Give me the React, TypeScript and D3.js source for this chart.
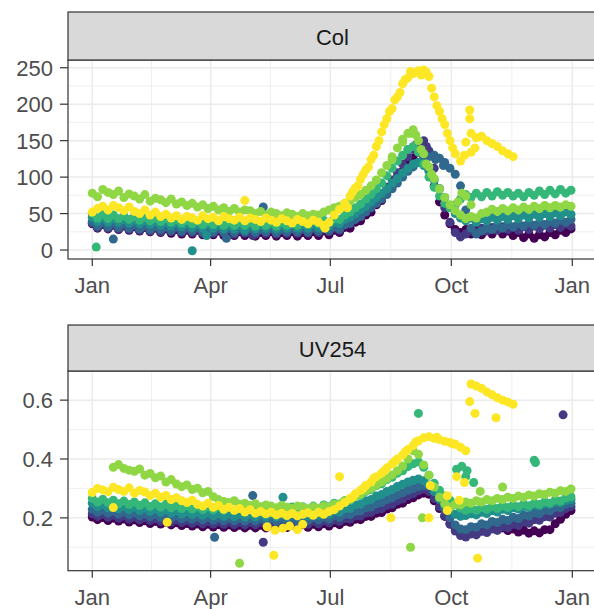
import React from "react";
import * as d3 from "d3";

// ---------------- data ----------------
const seriesIds = ["S1", "S2", "S3", "S4", "S5", "S6", "S7"];
const seriesColors = ["#440154", "#443A83", "#31688E", "#21908C", "#35B779", "#8FD744", "#FDE725"];
const facetTitles = ["Col", "UV254"];
const monthLabels = ["Jan", "Apr", "Jul", "Oct", "Jan"];
const monthTickDates = ["2019-01-01", "2019-04-01", "2019-07-01", "2019-10-01", "2020-01-01"];
const colTicks = [0, 50, 100, 150, 200, 250];
const colMinor = [25, 75, 125, 175, 225];
const uvTicks = [0.2, 0.4, 0.6];
const uvMinor = [0.1, 0.3, 0.5];

// sample days of year (every 4 days: 1, 5, ..., 365)
const sampleDays = d3.range(1, 366, 4);

const colPurple = [36, 30, 35, 29, 34, 28, 33, 27, 32, 26, 31, 25, 30, 24, 29, 23, 28, 22, 27, 22, 27, 21, 26, 21, 26, 20, 25, 20, 25, 20, 25, 19, 24, 20, 25, 19, 24, 20, 25, 19, 24, 20, 25, 20, 26, 21, 27, 24, 31, 30, 38, 40, 48, 52, 62, 68, 80, 88, 100, 108, 120, 126, 134, 126, 110, 88, 66, 48, 36, 28, 24, 28, 22, 27, 21, 27, 22, 28, 22, 26, 20, 24, 17, 22, 16, 21, 18, 24, 21, 27, 24, 29];
const colIndigo = [37, 31, 36, 30, 35, 29, 34, 28, 33, 27, 32, 26, 31, 25, 30, 25, 30, 24, 29, 24, 29, 23, 28, 23, 28, 23, 28, 22, 27, 23, 28, 22, 27, 23, 28, 22, 27, 23, 28, 23, 28, 23, 29, 24, 29, 25, 30, 27, 34, 36, 42, 46, 54, 60, 68, 76, 86, 96, 106, 118, 128, 138, 146, 150, 136, 112, 84, 58, 38, 24, 18, 22, 26, 24, 30, 26, 31, 27, 32, 28, 31, 27, 32, 28, 33, 29, 34, 30, 35, 31, 36, 33];
const colBlue = [39, 33, 38, 32, 37, 31, 36, 30, 35, 29, 34, 28, 33, 28, 32, 27, 32, 26, 31, 26, 31, 25, 30, 25, 30, 25, 30, 24, 30, 25, 30, 24, 29, 25, 30, 24, 29, 25, 30, 25, 30, 25, 31, 26, 31, 27, 32, 29, 35, 37, 42, 46, 52, 58, 64, 70, 76, 84, 92, 100, 108, 114, 120, 124, 128, 130, 126, 120, 112, 104, 88, 55, 30, 22, 26, 30, 28, 33, 30, 35, 32, 36, 33, 37, 34, 38, 35, 39, 37, 41, 38, 42];
const colTeal = [45, 39, 44, 38, 43, 38, 42, 37, 41, 36, 40, 35, 39, 34, 38, 33, 37, 32, 36, 31, 35, 30, 35, 30, 34, 29, 34, 29, 34, 30, 34, 29, 34, 30, 35, 29, 34, 30, 35, 30, 35, 30, 36, 31, 37, 33, 38, 36, 42, 45, 50, 55, 60, 66, 72, 78, 84, 92, 98, 106, 112, 118, 120, 116, 108, 96, 84, 72, 60, 50, 44, 40, 44, 38, 43, 40, 45, 41, 46, 42, 47, 43, 48, 44, 49, 45, 50, 46, 51, 47, 52, 49];
const colGreen = [50, 44, 49, 43, 48, 43, 47, 42, 46, 41, 45, 40, 44, 39, 43, 38, 42, 37, 41, 36, 40, 35, 39, 35, 39, 34, 38, 34, 38, 34, 38, 33, 38, 34, 38, 33, 38, 34, 39, 34, 39, 35, 40, 36, 41, 38, 43, 42, 48, 52, 58, 63, 70, 76, 84, 92, 102, 112, 122, 130, 138, 142, 134, 118, 100, 86, 74, 64, 58, 62, 70, 76, 72, 78, 73, 79, 74, 80, 75, 79, 74, 78, 73, 79, 75, 81, 76, 82, 77, 83, 78, 82];
const colLightGreen = [78, 73, 83, 79, 76, 81, 72, 77, 74, 70, 76, 67, 71, 69, 65, 70, 63, 66, 61, 64, 59, 62, 57, 60, 55, 58, 53, 57, 52, 55, 54, 50, 53, 48, 52, 50, 47, 51, 49, 46, 50, 47, 49, 48, 52, 55, 58, 60, 64, 67, 72, 76, 82, 88, 96, 106, 116, 128, 140, 152, 160, 165, 150, 132, 114, 98, 84, 72, 62, 54, 48, 43, 46, 44, 50, 52, 56, 53, 57, 54, 58, 55, 59, 56, 60, 57, 61, 58, 61, 59, 62, 60];
const colYellow = [52, 57, 60, 55, 61, 58, 54, 59, 53, 50, 55, 48, 52, 46, 49, 44, 47, 42, 46, 44, 41, 47, 43, 45, 40, 46, 43, 41, 45, 40, 44, 42, 39, 44, 41, 38, 43, 40, 37, 42, 39, 36, 41, 38, 34, 38, 48, 56, 64, 74, 85, 97, 110, 124, 142, 162, 180, 194, 210, 228, 236, 242, 246, 247, 238, 210, 190, 172, 150, 132, 122, 148, 160, 154, 156, 150, 146, 142, 136, 132, 128, null, null, null, null, null, null, null, null, null, null, null];

const uvPurple = [0.203, 0.194, 0.201, 0.191, 0.199, 0.189, 0.196, 0.186, 0.193, 0.184, 0.19, 0.181, 0.188, 0.179, 0.185, 0.176, 0.183, 0.174, 0.181, 0.172, 0.179, 0.17, 0.178, 0.169, 0.177, 0.168, 0.176, 0.167, 0.175, 0.166, 0.175, 0.166, 0.175, 0.166, 0.175, 0.166, 0.175, 0.167, 0.176, 0.167, 0.177, 0.168, 0.178, 0.17, 0.18, 0.172, 0.183, 0.177, 0.188, 0.185, 0.195, 0.194, 0.205, 0.205, 0.216, 0.218, 0.23, 0.234, 0.246, 0.25, 0.262, 0.268, 0.278, 0.284, 0.28, 0.258, 0.232, 0.205, 0.182, 0.165, 0.152, 0.148, 0.158, 0.152, 0.163, 0.157, 0.167, 0.159, 0.166, 0.157, 0.162, 0.152, 0.158, 0.148, 0.156, 0.149, 0.16, 0.16, 0.18, 0.195, 0.212, 0.225];
const uvIndigo = [0.214, 0.205, 0.212, 0.202, 0.209, 0.199, 0.206, 0.196, 0.203, 0.193, 0.2, 0.191, 0.198, 0.188, 0.195, 0.186, 0.193, 0.184, 0.191, 0.182, 0.189, 0.18, 0.188, 0.179, 0.187, 0.178, 0.186, 0.177, 0.185, 0.176, 0.185, 0.176, 0.185, 0.176, 0.185, 0.176, 0.185, 0.177, 0.186, 0.177, 0.187, 0.178, 0.188, 0.18, 0.19, 0.183, 0.193, 0.188, 0.198, 0.196, 0.206, 0.206, 0.216, 0.218, 0.228, 0.231, 0.242, 0.246, 0.258, 0.264, 0.275, 0.282, 0.292, 0.298, 0.29, 0.266, 0.238, 0.208, 0.178, 0.155, 0.14, 0.135, 0.145, 0.142, 0.154, 0.15, 0.162, 0.158, 0.17, 0.166, 0.178, 0.174, 0.186, 0.182, 0.194, 0.192, 0.204, 0.203, 0.216, 0.218, 0.232, 0.238];
const uvBlue = [0.229, 0.219, 0.226, 0.216, 0.223, 0.213, 0.22, 0.21, 0.217, 0.207, 0.214, 0.204, 0.211, 0.202, 0.209, 0.199, 0.207, 0.197, 0.205, 0.195, 0.203, 0.193, 0.201, 0.192, 0.2, 0.191, 0.199, 0.19, 0.198, 0.189, 0.198, 0.189, 0.198, 0.189, 0.198, 0.189, 0.198, 0.19, 0.199, 0.19, 0.2, 0.191, 0.201, 0.193, 0.203, 0.196, 0.207, 0.202, 0.212, 0.211, 0.222, 0.223, 0.234, 0.237, 0.248, 0.252, 0.262, 0.268, 0.278, 0.285, 0.294, 0.3, 0.306, 0.31, 0.308, 0.29, 0.262, 0.23, 0.2, 0.176, 0.162, 0.16, 0.17, 0.168, 0.18, 0.176, 0.188, 0.184, 0.195, 0.191, 0.202, 0.198, 0.21, 0.206, 0.217, 0.214, 0.226, 0.224, 0.236, 0.235, 0.246, 0.25];
const uvTeal = [0.25, 0.238, 0.246, 0.234, 0.242, 0.231, 0.239, 0.228, 0.236, 0.225, 0.233, 0.222, 0.23, 0.219, 0.227, 0.216, 0.224, 0.213, 0.221, 0.211, 0.219, 0.209, 0.217, 0.207, 0.215, 0.205, 0.214, 0.204, 0.213, 0.203, 0.213, 0.203, 0.213, 0.203, 0.213, 0.203, 0.213, 0.204, 0.214, 0.205, 0.215, 0.206, 0.217, 0.209, 0.22, 0.213, 0.225, 0.22, 0.232, 0.232, 0.244, 0.246, 0.258, 0.262, 0.274, 0.279, 0.29, 0.296, 0.307, 0.314, 0.322, 0.328, 0.332, 0.326, 0.312, 0.29, 0.265, 0.242, 0.224, 0.212, 0.205, 0.208, 0.214, 0.21, 0.219, 0.215, 0.224, 0.22, 0.229, 0.225, 0.234, 0.23, 0.239, 0.235, 0.244, 0.24, 0.249, 0.246, 0.254, 0.251, 0.259, 0.262];
const uvGreen = [0.266, 0.254, 0.263, 0.251, 0.26, 0.248, 0.257, 0.245, 0.254, 0.242, 0.251, 0.239, 0.248, 0.237, 0.246, 0.234, 0.243, 0.232, 0.241, 0.23, 0.239, 0.228, 0.238, 0.227, 0.237, 0.226, 0.236, 0.225, 0.235, 0.224, 0.235, 0.224, 0.235, 0.224, 0.235, 0.225, 0.236, 0.226, 0.237, 0.227, 0.238, 0.229, 0.24, 0.232, 0.244, 0.238, 0.25, 0.247, 0.258, 0.26, 0.272, 0.277, 0.29, 0.296, 0.31, 0.316, 0.33, 0.338, 0.352, 0.36, 0.374, 0.384, 0.39, 0.372, 0.345, 0.318, 0.294, 0.274, 0.26, 0.246, 0.234, 0.226, 0.232, 0.226, 0.235, 0.229, 0.238, 0.232, 0.241, 0.235, 0.244, 0.238, 0.247, 0.241, 0.25, 0.245, 0.255, 0.25, 0.261, 0.257, 0.268, 0.272];
const uvLightGreen = [null, null, null, null, 0.372, 0.381, 0.368, 0.362, 0.358, 0.366, 0.345, 0.351, 0.336, 0.342, 0.322, 0.33, 0.315, 0.306, 0.312, 0.296, 0.301, 0.285, 0.29, 0.272, 0.262, 0.256, 0.252, 0.258, 0.246, 0.25, 0.242, 0.248, 0.238, 0.244, 0.24, 0.234, 0.242, 0.236, 0.232, 0.24, 0.236, 0.231, 0.238, 0.233, 0.24, 0.236, 0.246, 0.246, 0.258, 0.262, 0.274, 0.28, 0.292, 0.3, 0.312, 0.322, 0.334, 0.346, 0.36, 0.376, 0.4, 0.428, 0.416, 0.38, 0.345, 0.305, 0.27, 0.248, 0.236, 0.246, 0.244, 0.254, 0.25, 0.258, 0.254, 0.262, 0.258, 0.266, 0.262, 0.27, 0.266, 0.274, 0.27, 0.278, 0.274, 0.282, 0.279, 0.287, 0.284, 0.292, 0.29, 0.298];
const uvYellow = [0.286, 0.3, 0.295, 0.289, 0.304, 0.296, 0.29, 0.302, 0.284, 0.293, 0.288, 0.276, 0.284, 0.27, 0.276, 0.262, 0.268, 0.258, 0.252, 0.26, 0.246, 0.24, 0.25, 0.236, 0.242, 0.229, 0.236, 0.226, 0.232, 0.22, 0.228, 0.216, 0.222, 0.214, 0.219, 0.21, 0.216, 0.208, 0.215, 0.207, 0.212, 0.217, 0.209, 0.219, 0.212, 0.222, 0.228, 0.24, 0.252, 0.266, 0.282, 0.294, 0.31, 0.322, 0.34, 0.352, 0.37, 0.384, 0.4, 0.414, 0.432, 0.446, 0.462, 0.472, 0.476, 0.47, 0.466, 0.46, 0.456, 0.45, 0.44, 0.428, 0.655, 0.648, 0.64, 0.628, 0.618, 0.608, 0.6, 0.594, 0.586, null, null, null, null, null, null, null, null, null, null, null];

// scattered extra points: [series index, day of year, value]
const colExtras = [
  [4, 4, 4], [3, 77, -1], [2, 17, 15], [2, 131, 59], [2, 103, 16], [3, 88, 20], [1, 123, 20], [3, 117, 27],
  [6, 117, 68], [6, 178, 30], [5, 279, 66], [5, 282, 78], [5, 285, 74], [5, 289, 62],
  [6, 284, 130], [6, 289, 134], [6, 292, 140], [6, 288, 180], [6, 288, 192],
  [6, 195, 58], [6, 199, 80], [6, 203, 88], [6, 207, 104], [6, 211, 114], [6, 215, 130], [6, 219, 150], [6, 223, 172],
  [6, 227, 190], [6, 231, 206], [6, 235, 216], [6, 239, 234], [6, 243, 245], [6, 251, 240], [6, 255, 244],
  [6, 259, 222], [6, 263, 198], [6, 267, 180], [6, 271, 160], [6, 275, 140],
  [5, 229, 124], [5, 237, 148], [5, 243, 160], [5, 247, 158], [5, 251, 138], [5, 255, 118], [5, 259, 104],
  [1, 247, 144], [1, 255, 142], [2, 262, 124], [2, 268, 116], [4, 241, 138],
];
const uvExtras = [
  [2, 94, 0.134], [2, 123, 0.276], [1, 131, 0.117], [1, 359, 0.55], [5, 113, 0.046], [5, 243, 0.1],
  [5, 296, 0.29], [5, 313, 0.305], [5, 252, 0.2], [3, 146, 0.27],
  [4, 249, 0.555], [4, 337, 0.396], [4, 338, 0.388], [4, 278, 0.365], [4, 282, 0.375], [4, 286, 0.36], [4, 285, 0.34], [4, 291, 0.32],
  [6, 134, 0.17], [6, 140, 0.158], [6, 146, 0.165], [6, 151, 0.172], [6, 157, 0.16], [6, 161, 0.178], [6, 139, 0.073],
  [6, 58, 0.185], [6, 17, 0.235], [6, 189, 0.34],
  [6, 199, 0.27], [6, 207, 0.3], [6, 215, 0.335], [6, 223, 0.36], [6, 231, 0.392], [6, 239, 0.425], [6, 247, 0.458],
  [6, 263, 0.474], [6, 275, 0.452],
  [6, 258, 0.31], [6, 271, 0.275], [6, 280, 0.26], [6, 271, 0.225], [6, 257, 0.2], [6, 228, 0.2],
  [6, 278, 0.34], [6, 284, 0.32], [6, 288, 0.595], [6, 292, 0.555], [6, 308, 0.54], [6, 294, 0.063],
];

const colSeries = [colPurple, colIndigo, colBlue, colTeal, colGreen, colLightGreen, colYellow];
const uvSeries = [uvPurple, uvIndigo, uvBlue, uvTeal, uvGreen, uvLightGreen, uvYellow];

// ---------------- layout ----------------
const W = 594;
const H = 609;
const PL = 68;
const PR = 597;
const FONT = "'Liberation Sans', Arial, Helvetica, sans-serif";
const FS = 22;
const panels = [
  { title: facetTitles[0], stripTop: 12, top: 60, bottom: 259, domain: [-12.3, 260.6], ticks: colTicks, minor: colMinor, series: colSeries, extras: colExtras, fmt: (v: number) => String(v) },
  { title: facetTitles[1], stripTop: 325, top: 371, bottom: 570.7, domain: [0.0205, 0.699], ticks: uvTicks, minor: uvMinor, series: uvSeries, extras: uvExtras, fmt: (v: number) => v.toFixed(1) },
];

const DAY = 86400000;
const dayDate = (doy: number) => new Date(2019, 0, doy);
const majorDates = monthTickDates.map((s) => {
  const [y, m, d] = s.split("-").map(Number);
  return new Date(y, m - 1, d);
});
const x = d3
  .scaleTime()
  .domain([new Date(majorDates[0].getTime() - 18.46 * DAY), new Date(majorDates[4].getTime() + 18.78 * DAY)])
  .range([PL, PR]);
const minorDates = majorDates.slice(1).map((d, i) => new Date((d.getTime() + majorDates[i].getTime()) / 2));

function Panel({ p, idx }: { p: any; idx: number }) {
  const y = d3.scaleLinear().domain(p.domain).range([p.bottom, p.top]);
  const clipId = `clip${idx}`;
  const pts: { cx: number; cy: number; c: string; k: string }[] = [];
  p.series.forEach((vals: (number | null)[], si: number) => {
    vals.forEach((v, i) => {
      if (v == null) return;
      pts.push({ cx: x(dayDate(sampleDays[i])), cy: y(v), c: seriesColors[si], k: `${seriesIds[si]}-${i}` });
    });
    p.extras
      .filter((e: number[]) => e[0] === si)
      .forEach((e: number[], j: number) => {
        pts.push({ cx: x(dayDate(e[1])), cy: y(e[2]), c: seriesColors[si], k: `e${si}-${j}` });
      });
  });
  const stripH = p.top - p.stripTop;
  return (
    <g>
      <defs>
        <clipPath id={clipId}>
          <rect x={PL} y={p.top} width={PR - PL} height={p.bottom - p.top} />
        </clipPath>
      </defs>
      <rect x={PL} y={p.top} width={PR - PL} height={p.bottom - p.top} fill="#FFFFFF" />
      {p.minor.map((v: number) => (
        <line key={`ym${v}`} x1={PL} x2={PR} y1={y(v)} y2={y(v)} stroke="#EBEBEB" strokeWidth={0.8} clipPath={`url(#${clipId})`} />
      ))}
      {minorDates.map((d, i) => (
        <line key={`xm${i}`} x1={x(d)} x2={x(d)} y1={p.top} y2={p.bottom} stroke="#EBEBEB" strokeWidth={0.8} />
      ))}
      {p.ticks.map((v: number) => (
        <line key={`yg${v}`} x1={PL} x2={PR} y1={y(v)} y2={y(v)} stroke="#EBEBEB" strokeWidth={1.5} />
      ))}
      {majorDates.map((d, i) => (
        <line key={`xg${i}`} x1={x(d)} x2={x(d)} y1={p.top} y2={p.bottom} stroke="#EBEBEB" strokeWidth={1.5} />
      ))}
      <g clipPath={`url(#${clipId})`}>
        {pts.map((pt) => (
          <circle key={pt.k} cx={pt.cx} cy={pt.cy} r={4.5} fill={pt.c} />
        ))}
      </g>
      <rect x={PL} y={p.top} width={PR - PL} height={p.bottom - p.top} fill="none" stroke="#333333" strokeWidth={1.2} />
      <rect x={PL} y={p.stripTop} width={PR - PL} height={stripH} fill="#D9D9D9" stroke="#333333" strokeWidth={1.2} />
      <text x={(PL + PR) / 2} y={p.stripTop + stripH / 2 + 8.5} textAnchor="middle" fontFamily={FONT} fontSize={FS} fill="#1A1A1A">
        {p.title}
      </text>
      {p.ticks.map((v: number) => (
        <g key={`yt${v}`}>
          <line x1={60} x2={PL} y1={y(v)} y2={y(v)} stroke="#333333" strokeWidth={1.2} />
          <text x={53} y={y(v) + 8} textAnchor="end" fontFamily={FONT} fontSize={FS} fill="#4D4D4D">
            {p.fmt(v)}
          </text>
        </g>
      ))}
      {majorDates.map((d, i) => (
        <g key={`xt${i}`}>
          <line x1={x(d)} x2={x(d)} y1={p.bottom} y2={p.bottom + 7} stroke="#333333" strokeWidth={1.2} />
          <text x={x(d)} y={p.bottom + 34} textAnchor="middle" fontFamily={FONT} fontSize={FS} fill="#4D4D4D">
            {monthLabels[i]}
          </text>
        </g>
      ))}
    </g>
  );
}

export default function App() {
  return (
    <svg width={W} height={H} viewBox={`0 0 ${W} ${H}`} style={{ position: "absolute", left: 0, top: 0, background: "#FFFFFF" }}>
      <rect x={0} y={0} width={W} height={H} fill="#FFFFFF" />
      {panels.map((p, i) => (
        <Panel key={p.title} p={p} idx={i} />
      ))}
    </svg>
  );
}
